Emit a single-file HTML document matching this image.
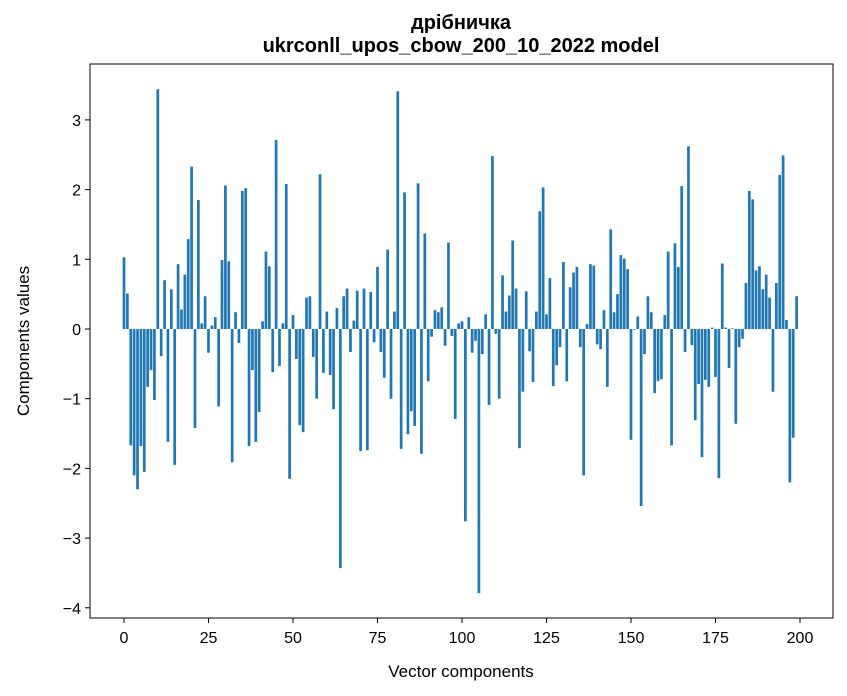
<!DOCTYPE html>
<html><head><meta charset="utf-8"><style>
body{margin:0;background:#fff;}
svg{display:block;font-family:"Liberation Sans","DejaVu Sans",sans-serif;}
</style></head><body>
<svg id="chart" width="847" height="696" xmlns="http://www.w3.org/2000/svg">
<rect width="847" height="696" fill="#fff"/>
<text x="461" y="29" text-anchor="middle" font-size="20" font-weight="bold">дрібничка</text>
<text x="461" y="52" text-anchor="middle" font-size="20" font-weight="bold">ukrconll_upos_cbow_200_10_2022 model</text>
<g id="bars"></g>
<rect x="90" y="64" width="743" height="554" fill="none" stroke="#000" stroke-width="1"/>
<g id="xticks"></g>
<g id="yticks"></g>
<text x="461" y="677" text-anchor="middle" font-size="17">Vector components</text>
<text transform="translate(29,341) rotate(-90)" text-anchor="middle" font-size="17">Components values</text>
</svg>
<script>
const values = [1.03,0.51,-1.67,-2.10,-2.30,-1.68,-2.05,-0.83,-0.59,-1.02,
3.44,-0.39,0.70,-1.62,0.57,-1.95,0.93,0.28,0.78,1.29,
2.33,-1.42,1.85,0.08,0.47,-0.34,0.05,0.17,-1.11,0.99,
2.06,0.97,-1.91,0.24,-0.20,1.98,2.02,-1.68,-0.59,-1.62,
-1.19,0.11,1.11,0.90,-0.62,2.71,-0.53,0.08,2.08,-2.15,
0.20,-0.43,-1.38,-1.48,0.45,0.47,-0.40,-1.00,2.22,-0.63,
0.25,-0.66,-1.15,0.30,-3.43,0.47,0.58,-0.33,0.12,0.55,
-1.75,0.58,-1.74,0.53,-0.19,0.89,-0.33,-0.70,1.14,-1.00,
0.25,3.41,-1.72,1.96,-1.51,-1.18,-1.39,2.09,-1.79,1.37,
-0.75,-0.11,0.27,0.24,0.31,-0.24,1.24,-0.10,-1.29,0.08,
0.11,-2.76,0.17,-0.34,-0.17,-3.79,-0.36,0.21,-1.09,2.48,
-0.07,-1.00,0.77,0.25,0.48,1.27,0.58,-1.71,-0.90,0.54,
-0.32,-0.76,0.25,1.69,2.03,0.21,0.73,-0.82,-0.52,-0.26,
0.96,-0.75,0.60,0.81,0.89,-0.26,-2.10,0.07,0.93,0.91,
-0.22,-0.29,0.27,-0.83,1.43,0.24,0.50,1.06,1.01,0.86,
-1.59,-0.01,0.18,-2.54,-0.36,0.47,0.24,-0.92,-0.75,-0.72,
0.20,1.11,-1.67,1.23,0.89,2.05,-0.33,2.62,-0.23,-1.31,
-0.79,-1.84,-0.73,-0.83,0.02,-0.69,-2.14,0.94,0.02,-0.56,
0.01,-1.36,-0.26,-0.14,0.66,1.98,1.86,0.84,0.90,0.57,
0.78,0.45,-0.90,0.66,2.21,2.49,0.13,-2.20,-1.56,0.47];
const xTicks = [0,25,50,75,100,125,150,175,200];
const yTicks = [-4,-3,-2,-1,0,1,2,3];
const NS = "http://www.w3.org/2000/svg";
const xS = v => 124 + v * 3.38;
const yS = v => 329 - v * 69.7;
const bars = document.getElementById('bars');
values.forEach((v, i) => {
  const r = document.createElementNS(NS, 'rect');
  
  
  const bw = 0.8 * 3.38;
  r.setAttribute('x', xS(i) - bw / 2);
  r.setAttribute('width', bw);
  r.setAttribute('y', Math.min(yS(v), yS(0)));
  r.setAttribute('height', Math.abs(yS(v) - yS(0)));
  r.setAttribute('fill', '#1f77b4');
  bars.appendChild(r);
});
const xg = document.getElementById('xticks');
xTicks.forEach(t => {
  const l = document.createElementNS(NS, 'line');
  
  
  l.setAttribute('x1', xS(t)); l.setAttribute('x2', xS(t));
  l.setAttribute('y1', 618); l.setAttribute('y2', 623);
  l.setAttribute('stroke', '#000');
  xg.appendChild(l);
  const tx = document.createElementNS(NS, 'text');
  
  
  tx.setAttribute('x', xS(t)); tx.setAttribute('y', 643);
  tx.setAttribute('text-anchor', 'middle'); tx.setAttribute('font-size', '16');
  tx.textContent = t;
  xg.appendChild(tx);
});
const yg = document.getElementById('yticks');
yTicks.forEach(t => {
  const l = document.createElementNS(NS, 'line');
  
  
  l.setAttribute('x1', 85); l.setAttribute('x2', 90);
  l.setAttribute('y1', yS(t)); l.setAttribute('y2', yS(t));
  l.setAttribute('stroke', '#000');
  yg.appendChild(l);
  const tx = document.createElementNS(NS, 'text');
  
  
  tx.setAttribute('x', 81); tx.setAttribute('y', yS(t) + 6);
  tx.setAttribute('text-anchor', 'end'); tx.setAttribute('font-size', '16');
  tx.textContent = t < 0 ? '\u2212' + Math.abs(t) : String(t);
  yg.appendChild(tx);
});
</script>
</body></html>
